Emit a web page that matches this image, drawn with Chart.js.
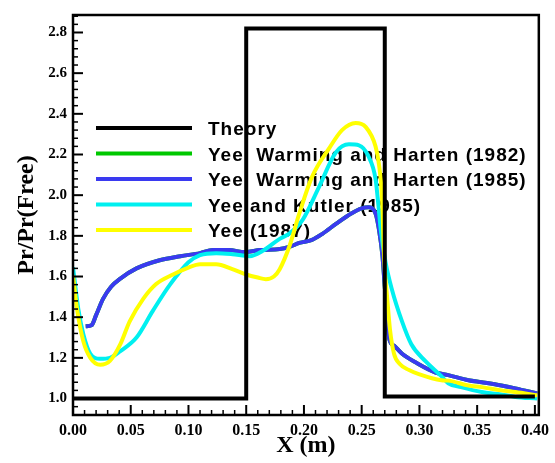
<!DOCTYPE html>
<html>
<head>
<meta charset="utf-8">
<script src="https://cdn.jsdelivr.net/npm/chart.js@4"></script>
<style>
    html, body { margin: 0; padding: 0; background: #fff; }
</style>
</head>
<body>
<canvas id="prChart" width="555" height="463"></canvas>
<script>
// tick labels
const xTicks = [0.00, 0.05, 0.10, 0.15, 0.20, 0.25, 0.30, 0.35, 0.40];
const yTicks = [1.0, 1.2, 1.4, 1.6, 1.8, 2.0, 2.2, 2.4, 2.6, 2.8];

const seriesNames = [
    "Theory",
    "Yee, Warming and Harten (1982)",
    "Yee, Warming and Harten (1985)",
    "Yee and Kutler (1985)",
    "Yee (1987)"
];

// theory: step profile
const theoryX = [0.0, 0.15, 0.15, 0.27, 0.27, 0.40];
const theoryY = [1.0, 1.0, 2.82, 2.82, 1.01, 1.01];

// Yee, Warming and Harten (1985)
const wwh85X = [0.011, 0.016, 0.020, 0.026, 0.033, 0.041, 0.055, 0.075, 0.093, 0.110, 0.121, 0.135, 0.149, 0.162,
    0.179, 0.187, 0.196, 0.207, 0.216, 0.228, 0.241, 0.250, 0.256, 0.262, 0.265, 0.268, 0.270, 0.272, 0.274,
    0.278, 0.285, 0.297, 0.314, 0.325, 0.3425, 0.354, 0.371, 0.383, 0.402];
const wwh85Y = [1.355, 1.36, 1.41, 1.49, 1.55, 1.59, 1.64, 1.68, 1.70, 1.715, 1.73, 1.73, 1.72, 1.73,
    1.735, 1.745, 1.765, 1.78, 1.81, 1.86, 1.91, 1.935, 1.94, 1.91, 1.83, 1.70, 1.55, 1.40, 1.29,
    1.26, 1.22, 1.177, 1.128, 1.115, 1.09, 1.08, 1.064, 1.05, 1.025];

// Yee, Warming and Harten (1982): not visible in the figure, lies under the 1985 curve
const wwh82X = wwh85X;
const wwh82Y = wwh85Y;

// Yee and Kutler (1985)
const ykX = [0.000, 0.0046, 0.009, 0.015, 0.0235, 0.032, 0.041, 0.055, 0.069, 0.084, 0.100, 0.110, 0.124, 0.138,
    0.153, 0.164, 0.179, 0.187, 0.199, 0.213, 0.2276, 0.239, 0.2477, 0.256, 0.262, 0.2645, 0.2665, 0.2707,
    0.276, 0.285, 0.293, 0.305, 0.319, 0.325, 0.336, 0.354, 0.371, 0.383, 0.402];
const ykY = [1.645, 1.44, 1.315, 1.22, 1.195, 1.20, 1.233, 1.30, 1.43, 1.56, 1.67, 1.705, 1.715, 1.71,
    1.70, 1.725, 1.785, 1.81, 1.88, 2.04, 2.21, 2.25, 2.245, 2.19, 2.08, 1.95, 1.83, 1.67,
    1.54, 1.378, 1.267, 1.185, 1.11, 1.075, 1.056, 1.032, 1.02, 1.008, 1.0];

// Yee (1987)
const yee87X = [0.000, 0.0035, 0.009, 0.015, 0.0235, 0.032, 0.041, 0.049, 0.0608, 0.072, 0.0866, 0.100, 0.110,
    0.124, 0.138, 0.150, 0.160, 0.167, 0.174, 0.179, 0.1875, 0.196, 0.207, 0.2218, 0.233, 0.2448, 0.2534,
    0.262, 0.265, 0.2675, 0.2685, 0.2695, 0.272, 0.2745, 0.278, 0.283, 0.291, 0.2995, 0.319, 0.325, 0.3425,
    0.354, 0.371, 0.383, 0.402];
const yee87Y = [1.605, 1.44, 1.28, 1.20, 1.166, 1.185, 1.267, 1.378, 1.49, 1.563, 1.61, 1.644, 1.66,
    1.66, 1.636, 1.61, 1.595, 1.587, 1.60, 1.636, 1.75, 1.91, 2.09, 2.23, 2.32, 2.355, 2.336,
    2.24, 2.15, 2.00, 1.85, 1.68, 1.50, 1.34, 1.22, 1.17, 1.14, 1.12, 1.09, 1.088, 1.064,
    1.056, 1.04, 1.032, 1.016];

const seriesColors = ["#000000", "#00c800", "#3a3af0", "#00f0f0", "#ffff00"];

function toPoints(xs, ys) {
    return xs.map((x, i) => ({x: x, y: ys[i]}));
}

const serifFont = "'Liberation Serif', 'Times New Roman', serif";
const sansFont = "'Liberation Sans', Arial, sans-serif";

// legend drawn inside the plot, under the curves
const legendInside = {
    id: "legendInside",
    beforeDatasetsDraw(chart) {
        let ctx = chart.ctx;
        ctx.save();
        ctx.font = "bold 19px " + sansFont;
        ctx.letterSpacing = "1px";
        ctx.fillStyle = "#000";
        ctx.textBaseline = "alphabetic";
        seriesNames.forEach((name, i) => {
            let y = 128 + i * 25.5;
            ctx.strokeStyle = seriesColors[i];
            ctx.lineWidth = 4;
            ctx.beginPath();
            ctx.moveTo(96, y);
            ctx.lineTo(192, y);
            ctx.stroke();
            ctx.fillText(name, 208, y + 7);
        });
        ctx.restore();
    }
};

// frame plus inward tick marks on bottom and left axes
const frameTicks = {
    id: "frameTicks",
    afterDatasetsDraw(chart) {
        let ctx = chart.ctx;
        let a = chart.chartArea;
        let xs = chart.scales.x;
        let ys = chart.scales.y;
        ctx.save();
        ctx.strokeStyle = "#000";
        ctx.lineCap = "butt";

        for (let i = 0; i <= 40; i++) {
            let px = xs.getPixelForValue(i / 100);
            let major = i % 5 === 0;
            ctx.lineWidth = major ? 2 : 1.5;
            ctx.beginPath();
            ctx.moveTo(px, a.bottom);
            ctx.lineTo(px, a.bottom - (major ? 10 : 5));
            ctx.stroke();
        }
        for (let k = 23; k <= 72; k++) {
            let py = ys.getPixelForValue(k * 0.04);
            let major = k % 5 === 0;
            ctx.lineWidth = major ? 2 : 1.5;
            ctx.beginPath();
            ctx.moveTo(a.left, py);
            ctx.lineTo(a.left + (major ? 10 : 5), py);
            ctx.stroke();
        }

        ctx.lineWidth = 2.5;
        ctx.strokeRect(a.left, a.top, a.right - a.left, a.bottom - a.top);
        ctx.restore();
    }
};

function makeDataset(i, xs, ys, drawOrder, isStep) {
    return {
        label: seriesNames[i],
        data: toPoints(xs, ys),
        borderColor: seriesColors[i],
        backgroundColor: seriesColors[i],
        borderWidth: 4,
        pointRadius: 0,
        fill: false,
        tension: isStep ? 0 : 0.4,
        cubicInterpolationMode: isStep ? "default" : "monotone",
        order: drawOrder
    };
}

let ctx = document.getElementById("prChart").getContext("2d");

let prChart = new Chart(ctx, {
    type: "line",
    data: {
        datasets: [
            makeDataset(0, theoryX, theoryY, 0, true),
            makeDataset(1, wwh82X, wwh82Y, 4, false),
            makeDataset(2, wwh85X, wwh85Y, 3, false),
            makeDataset(3, ykX, ykY, 2, false),
            makeDataset(4, yee87X, yee87Y, 1, false)
        ]
    },
    options: {
        responsive: false,
        animation: false,
        layout: {
            padding: {top: 8, right: 13, left: 0, bottom: 0}
        },
        plugins: {
            legend: {display: false},
            tooltip: {enabled: false}
        },
        scales: {
            x: {
                type: "linear",
                min: 0,
                max: 0.4034,
                afterBuildTicks: scale => { scale.ticks = xTicks.map(v => ({value: v})); },
                afterFit: scale => { scale.height = 48; },
                grid: {display: false, drawTicks: false},
                border: {display: false},
                ticks: {
                    callback: v => Number(v).toFixed(2),
                    color: "#000",
                    padding: 6,
                    maxRotation: 0,
                    autoSkip: false,
                    font: {family: serifFont, weight: "bold", size: 16}
                },
                title: {
                    display: true,
                    text: "X (m)",
                    color: "#000",
                    padding: {top: 0, bottom: 5},
                    font: {family: serifFont, weight: "bold", size: 24, lineHeight: 1}
                }
            },
            y: {
                type: "linear",
                min: 0.919,
                max: 2.886,
                afterBuildTicks: scale => { scale.ticks = yTicks.map(v => ({value: v})); },
                afterFit: scale => { scale.width = 73; },
                grid: {display: false, drawTicks: false},
                border: {display: false},
                ticks: {
                    callback: v => Number(v).toFixed(1),
                    color: "#000",
                    padding: 6,
                    autoSkip: false,
                    font: {family: serifFont, weight: "bold", size: 15}
                },
                title: {
                    display: true,
                    text: "Pr/Pr(Free)",
                    color: "#000",
                    padding: {top: 15, bottom: 0},
                    font: {family: serifFont, weight: "bold", size: 24, lineHeight: 1}
                }
            }
        }
    },
    plugins: [legendInside, frameTicks]
});
</script>
</body>
</html>
